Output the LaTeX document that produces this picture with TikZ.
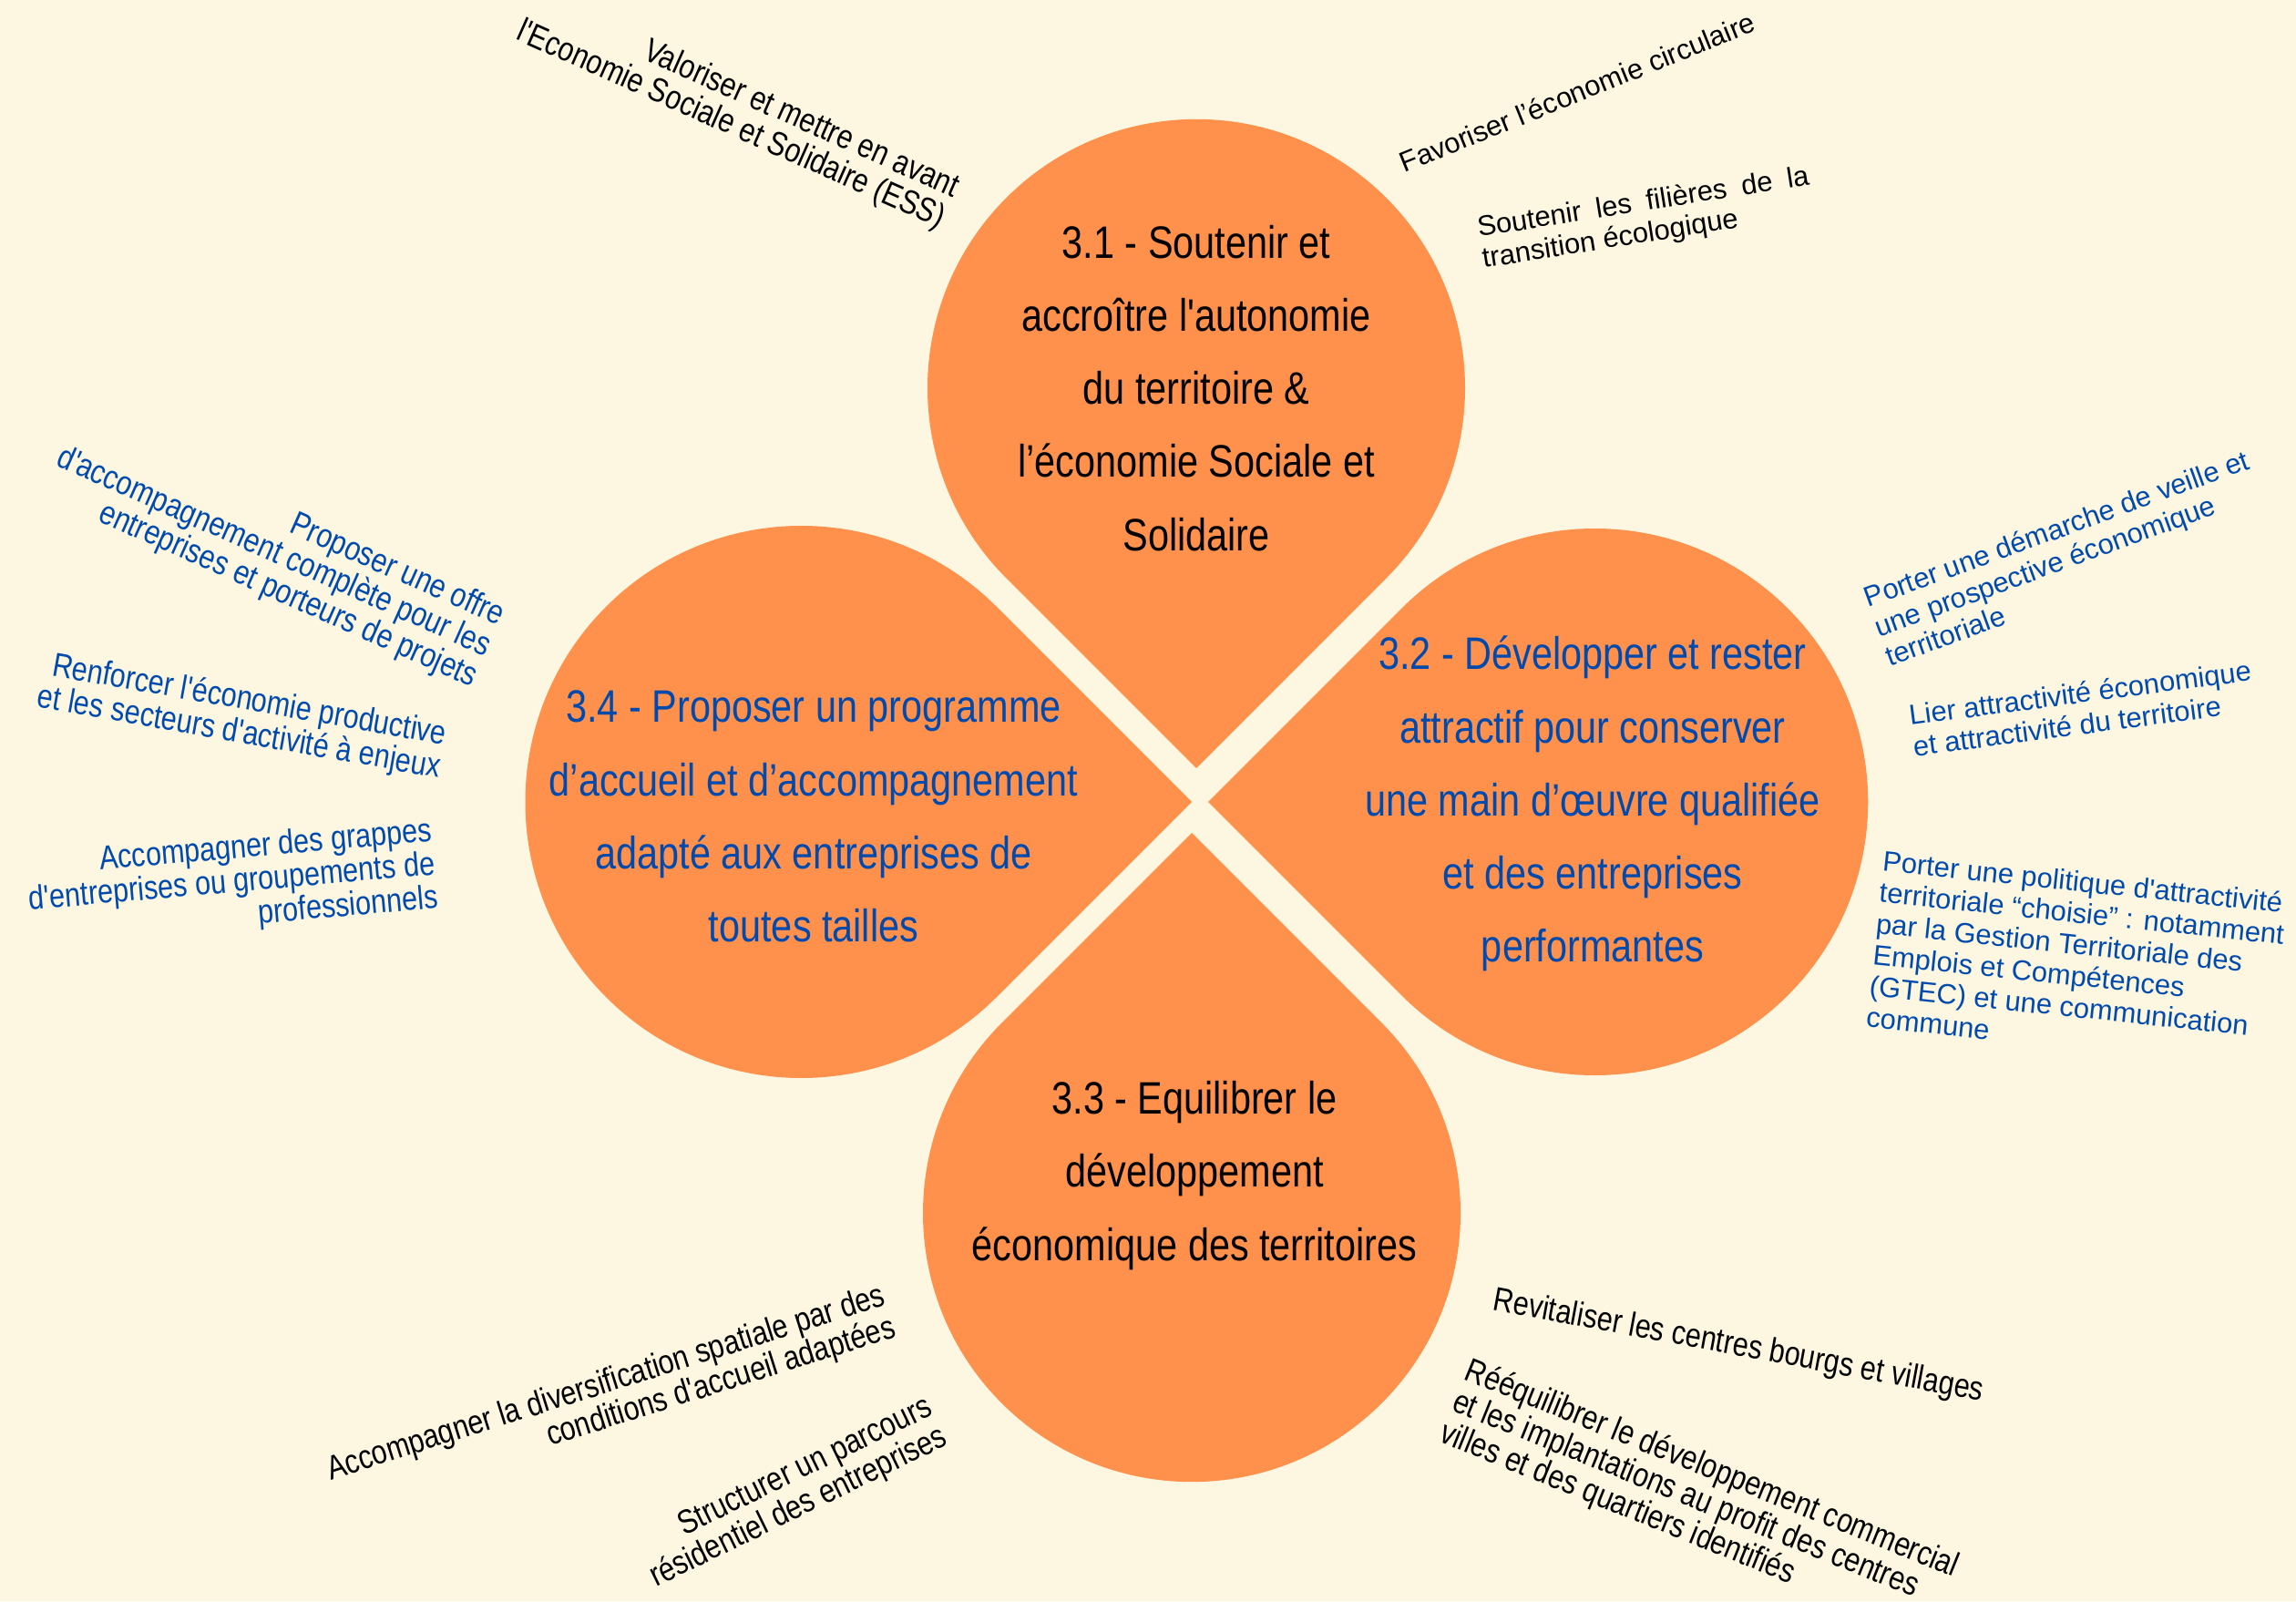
\documentclass[tikz,border=0pt]{standalone}
\usepackage{fontspec}
\setmainfont{Liberation Sans}
\newfontfamily\narrowfont[FakeStretch=0.83]{Liberation Sans}
\newfontfamily\widefont{Liberation Sans}
\usepackage{tikz}
\usetikzlibrary{calc}
\definecolor{cream}{HTML}{FDF6E0}
\definecolor{petalorange}{HTML}{FF914D}
\definecolor{axisblue}{HTML}{004AAD}
\tikzstyle{goal}=[align=center,inner sep=0pt,font=\narrowfont\fontsize{14.2}{22.8}\selectfont]
\tikzstyle{action}=[inner sep=0pt,font=\narrowfont\fontsize{10.5}{10.5}\selectfont]
\tikzstyle{actionwide}=[inner sep=0pt,font=\widefont\fontsize{8.8}{9.8}\selectfont]
% petal: tip, direction towards circle centre, radius
\newcommand{\drawpetal}[3]{\fill[petalorange] (#1) -- ++(#2-45:#3) arc[start angle=#2+225,delta angle=270,radius=#3] -- cycle;}

\begin{document}
\begin{tikzpicture}
    \fill[cream] (0,0) rectangle (25.2,17.57);
    \useasboundingbox (0,0) rectangle (25.2,17.57);

    \coordinate (tip1) at (13.13,9.14);
    \coordinate (tip2) at (13.26,8.77);
    \coordinate (tip3) at (13.08,8.43);
    \coordinate (tip4) at (13.08,8.77);

    \drawpetal{tip1}{90}{2.95}
    \drawpetal{tip2}{0}{3.0}
    \drawpetal{tip3}{270}{2.95}
    \drawpetal{tip4}{180}{3.03}

    \node (p31) [goal] at (13.13,13.31) {3.1 - Soutenir et\\accroître l'autonomie\\du territoire \&\\l’économie Sociale et\\Solidaire};
    \node (p32) [goal,text=axisblue] at (17.48,8.75) {3.2 - Développer et rester\\attractif pour conserver\\une main d’œuvre qualifiée\\et des entreprises\\performantes};
    \node (p33) [goal] at (13.11,4.67) {3.3 - Equilibrer le\\développement\\économique des territoires};
    \node (p34) [goal,text=axisblue] at (8.93,8.61) {3.4 - Proposer un programme\\d’accueil et d’accompagnement\\adapté aux entreprises de\\toutes tailles};

    % 3.1
    \node (ess) [action,rotate=-24,anchor=east,align=right] at (10.43,15.32) {Valoriser et mettre en avant\\l'Economie Sociale et Solidaire (ESS)};
    \node (circ) [actionwide,rotate=22] at (17.31,16.56) {Favoriser l’économie circulaire};
    \node (filieres) [actionwide,rotate=9,anchor=west,align=left] at (16.24,14.88) {\makebox[3.68cm][s]{Soutenir les filières de la}\\transition écologique};

    % 3.2
    \node (veille) [actionwide,text=axisblue,rotate=20,anchor=west,align=left] at (20.58,10.68) {Porter une démarche de veille et\\une prospective économique\\territoriale};
    \node (lier) [actionwide,text=axisblue,rotate=7.5,anchor=west,align=left] at (20.97,9.55) {Lier attractivité économique\\et attractivité du territoire};
    \node (gtec) [actionwide,text=axisblue,rotate=-6,anchor=west,align=left] at (20.57,7.27) {Porter une politique d'attractivité\\territoriale “choisie” : notamment\\par la Gestion Territoriale des\\Emplois et Compétences\\(GTEC) et une communication\\commune};

    % 3.4
    \node (offre) [action,text=axisblue,rotate=-24,anchor=east,align=right] at (5.37,10.45) {Proposer une offre\\d'accompagnement complète pour les\\entreprises et porteurs de projets};
    \node (renforcer) [action,text=axisblue,rotate=-10,anchor=east,align=right] at (4.87,9.31) {Renforcer l'économie productive\\et les secteurs d'activité à enjeux};
    \node (grappes) [action,text=axisblue,rotate=5,anchor=east,align=right] at (4.78,8.07) {Accompagner des grappes\\d'entreprises ou groupements de\\professionnels};

    % 3.3
    \node (diversif) [action,rotate=17.5,anchor=east,align=right] at (9.77,3.17) {Accompagner la diversification spatiale par des\\conditions d'accueil adaptées};
    \node (parcours) [action,rotate=26,anchor=east,align=right] at (10.30,1.97) {Structurer un parcours\\résidentiel des entreprises};
    \node (revital) [action,rotate=-10.5] at (19.08,2.79) {Revitaliser les centres bourgs et villages};
    \node (reequil) [action,rotate=-22,anchor=west,align=left] at (15.95,2.19) {Rééquilibrer le développement commercial\\et les implantations au profit des centres\\villes et des quartiers identifiés};
\end{tikzpicture}
\end{document}
